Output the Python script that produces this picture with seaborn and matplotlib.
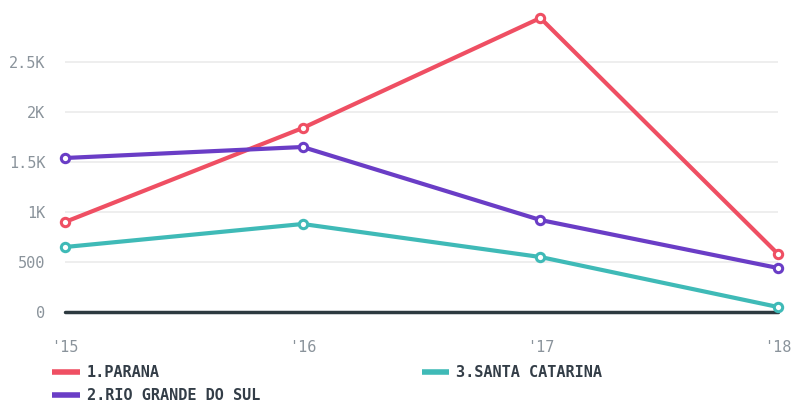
import pandas as pd
import matplotlib
matplotlib.use('Agg')
import matplotlib.pyplot as plt
import seaborn as sns
from matplotlib.lines import Line2D

# data
years = ["'15", "'16", "'17", "'18"]
parana = [900, 1840, 2940, 580]
rio_grande = [1540, 1650, 920, 440]
santa_catarina = [650, 880, 550, 50]

series_names = ['1.PARANA', '2.RIO GRANDE DO SUL', '3.SANTA CATARINA']
colors = ['#ef4f63', '#6a3dc6', '#3fbab7']
y_ticks = [0, 500, 1000, 1500, 2000, 2500]
y_labels = ['0', '500', '1K', '1.5K', '2K', '2.5K']

rows = []
for name, vals in zip(series_names, [parana, rio_grande, santa_catarina]):
    for i, v in enumerate(vals):
        rows.append({'year': i, 'value': v, 'state': name})
df = pd.DataFrame(rows)

sns.set_style('white')
plt.rcParams['font.family'] = ['DejaVu Sans Mono']

fig = plt.figure(figsize=(7.94, 4.05), dpi=100)
ax = fig.add_axes([0.0819, 0.2296, 0.898, 0.7408])

for y in y_ticks[1:]:
    ax.axhline(y, color='#ebebeb', lw=1.2, zorder=0)
ax.axhline(0, color='#2d3a40', lw=2.5, zorder=1, clip_on=False)

sns.lineplot(data=df, x='year', y='value', hue='state', palette=colors,
             hue_order=series_names, lw=3, marker='o', markersize=6,
             markerfacecolor='white', markeredgewidth=2.2, legend=False,
             ax=ax, zorder=3, clip_on=False)
for line, c in zip(ax.lines[-3:], colors):
    line.set_markeredgecolor(c)

ax.set_xlim(0, 3)
ax.set_ylim(0, 3000)
ax.set_xticks(range(len(years)))
ax.set_xticklabels(years)
ax.set_yticks(y_ticks)
ax.set_yticklabels(y_labels)
ax.tick_params(axis='both', length=0, labelsize=11, labelcolor='#8a939b')
ax.tick_params(axis='x', pad=20)
ax.tick_params(axis='y', pad=14)
ax.set_xlabel('')
ax.set_ylabel('')
for s in ax.spines.values():
    s.set_visible(False)

handles = [Line2D([0], [0], color=c, lw=4, solid_capstyle='butt') for c in colors]
leg = fig.legend(handles, series_names, ncol=2, loc='upper left',
                 bbox_to_anchor=(0.06, 0.11), frameon=False,
                 handlelength=1.8, handletextpad=0.45, columnspacing=10.6,
                 labelspacing=0.55, borderaxespad=0, borderpad=0.3,
                 prop={'size': 11, 'weight': 'bold'})
for t in leg.get_texts():
    t.set_color('#333d47')

fig.savefig('out.png', dpi=100)
